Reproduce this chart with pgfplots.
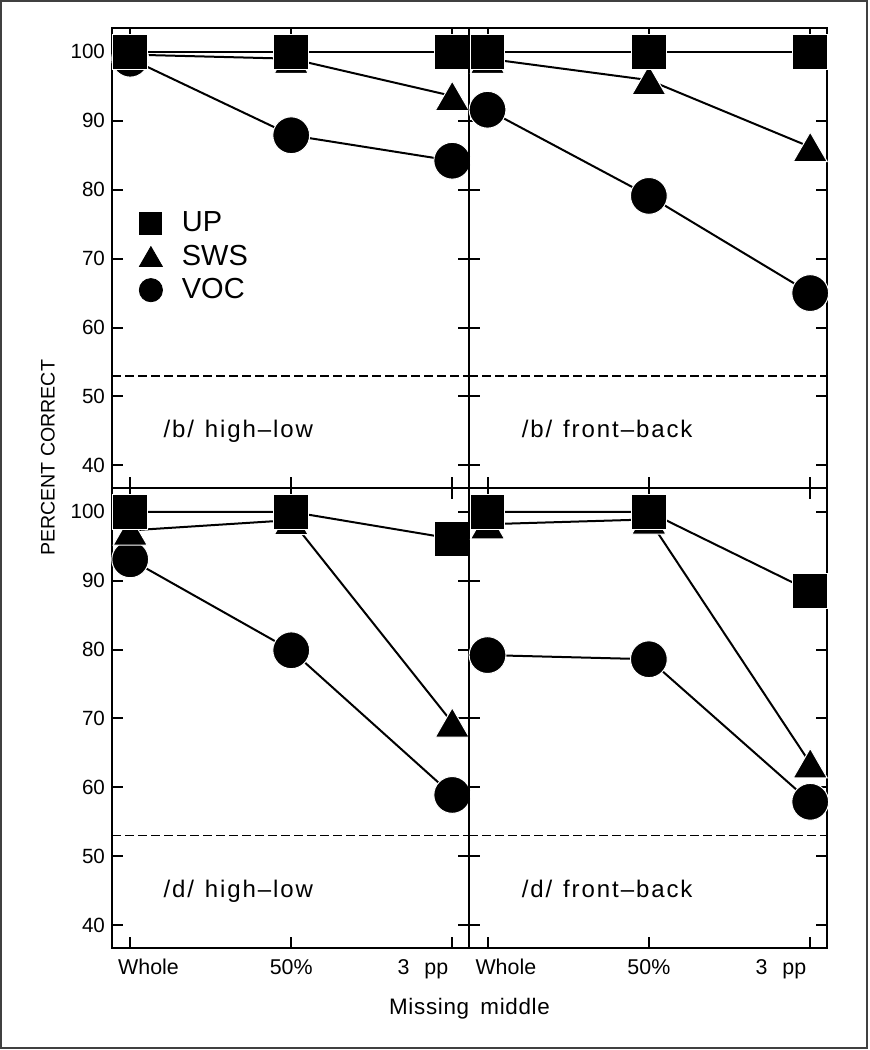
\documentclass[border=0pt]{standalone}
\usepackage{fontspec}
\setmainfont{Liberation Sans}
\newfontfamily\lblfont[LetterSpace=8]{Liberation Sans}
\newfontfamily\xlfont[LetterSpace=3]{Liberation Sans}
\usepackage{pgfplots}
\usepackage{pgfplotstable}
\pgfplotsset{compat=1.18}

% columns: position (0=Whole, 1=50%, 2=3 pp), UP, SWS, VOC
\pgfplotstableread{
x UP SWS VOC
0 100 99.6 99.0
1 100 99.0 87.9
2 100 93.6 84.2
}\tbhl
\pgfplotstableread{
x UP SWS VOC
0 100 99.0 91.6
1 100 95.9 79.1
2 100 86.2 65.0
}\tbfb
\pgfplotstableread{
x UP SWS VOC
0 100 97.3 93.1
1 100 98.8 79.9
2 96.1 69.4 58.9
}\tdhl
\pgfplotstableread{
x UP SWS VOC
0 100 98.2 79.2
1 100 98.9 78.6
2 88.5 63.5 57.9
}\tdfb

\pgfplotsset{
  panel/.style={
    scale only axis,
    xmin=-0.113, xmax=2.106, ymin=36.72, ymax=103.46,
    xtick={0,1,2}, ytick={40,50,60,70,80,90,100},
    tick align=inside, major tick length=5.5pt,
    axis line style={line width=1.1pt},
    every tick/.style={black, line width=1pt},
    clip=false,
    /pgf/number format/assume math mode=true,
    yticklabel style={font=\fontsize{10.3}{12}\selectfont},
    xticklabel style={anchor=base, yshift=-13.2pt, font=\fontsize{10.7}{12}\selectfont},
  },
  voc/.style={black, line width=1pt, mark=*, mark size=9.2pt,
    mark options={solid, fill=black, draw=white, line width=0.5pt}},
  sws/.style={black, line width=1pt, mark=triangle*, mark size=9.8pt,
    mark options={solid, fill=black, draw=white, line width=0.5pt, yshift=-2.4pt}},
  up/.style={black, line width=1pt, mark=square*, mark size=8.7pt,
    mark options={solid, fill=black, draw=white, line width=0.5pt}},
  chance/.style={black, line width=0.8pt, dash pattern=on 4.5pt off 2pt, forget plot},
}
\tikzset{lbl/.style={anchor=base west, inner sep=0pt, font=\lblfont\fontsize{12}{14}\selectfont}}

\begin{document}
\begin{tikzpicture}
\useasboundingbox (0,0) rectangle (434.5pt,525pt);

% top-left: /b/ high-low
\begin{axis}[panel, width=178.65pt, height=230pt, at={(56pt,281pt)}, anchor=south west,
  xticklabels={},
  legend style={at={(axis cs:0.0565,76.83)}, anchor=north west, draw=none, fill=none,
    inner sep=0pt, outer sep=0pt, row sep=5.2pt, column sep=9.7pt,
    font=\fontsize{14.5}{16}\selectfont, nodes={inner sep=0pt}},
  legend cell align=left,
  legend image code/.code={\draw[#1] plot coordinates {(0pt,0pt)};},
]
\addplot[chance] coordinates {(-0.113,53) (2.106,53)};
\addplot[voc, forget plot] table[x=x, y=VOC] {\tbhl};
\addplot[sws, forget plot] table[x=x, y=SWS] {\tbhl};
\addplot[up, forget plot] table[x=x, y=UP] {\tbhl};
\addlegendimage{only marks, mark=square*, mark size=5.5pt, mark options={fill=black}}
\addlegendentry{UP}
\addlegendimage{only marks, mark=triangle*, mark size=6.6pt, mark options={fill=black, yshift=-1.65pt}}
\addlegendentry{SWS}
\addlegendimage{only marks, mark=*, mark size=5.8pt, mark options={fill=black}}
\addlegendentry{VOC}
\node[lbl] at (axis cs:0.205,44) {/b/\hspace{0.45em}high–low};
\end{axis}

% top-right: /b/ front-back
\begin{axis}[panel, width=179pt, height=230pt, at={(234.65pt,281pt)}, anchor=south west,
  xticklabels={}, yticklabels={}]
\addplot[chance] coordinates {(-0.113,53) (2.106,53)};
\addplot[voc] table[x=x, y=VOC] {\tbfb};
\addplot[sws] table[x=x, y=SWS] {\tbfb};
\addplot[up] table[x=x, y=UP] {\tbfb};
\node[lbl] at (axis cs:0.21,44) {/b/\hspace{0.45em}front–back};
\end{axis}

% bottom-left: /d/ high-low
\begin{axis}[panel, width=178.65pt, height=229.85pt, at={(56pt,51.15pt)}, anchor=south west,
  xticklabels={{\makebox[0pt][l]{\hspace*{-6pt}Whole}},{50\%},{\makebox[0pt][r]{3\hspace{0.7em}pp\hspace*{2pt}}}}]
\addplot[chance] coordinates {(-0.113,53) (2.106,53)};
\addplot[voc] table[x=x, y=VOC] {\tdhl};
\addplot[sws] table[x=x, y=SWS] {\tdhl};
\addplot[up] table[x=x, y=UP] {\tdhl};
\node[lbl] at (axis cs:0.205,44) {/d/\hspace{0.45em}high–low};
\end{axis}

% bottom-right: /d/ front-back
\begin{axis}[panel, width=179pt, height=229.85pt, at={(234.65pt,51.15pt)}, anchor=south west,
  yticklabels={},
  xticklabels={{\makebox[0pt][l]{\hspace*{-6pt}Whole}},{50\%},{\makebox[0pt][r]{3\hspace{0.7em}pp\hspace*{2pt}}}}]
\addplot[chance] coordinates {(-0.113,53) (2.106,53)};
\addplot[voc] table[x=x, y=VOC] {\tdfb};
\addplot[sws] table[x=x, y=SWS] {\tdfb};
\addplot[up] table[x=x, y=UP] {\tdfb};
\node[lbl] at (axis cs:0.21,44) {/d/\hspace{0.45em}front–back};
\end{axis}

\node[rotate=90, font=\fontsize{9.8}{11}\selectfont] at (24pt,296pt) {PERCENT CORRECT};
\node[anchor=base, inner sep=0pt, font=\xlfont\fontsize{11.2}{13}\selectfont] at (234.75pt,17.5pt) {Missing\hspace{0.2em} middle};
\draw[line width=1pt, black!75] (0.6pt,0.8pt) rectangle (433.4pt,524.4pt);
\end{tikzpicture}
\end{document}
